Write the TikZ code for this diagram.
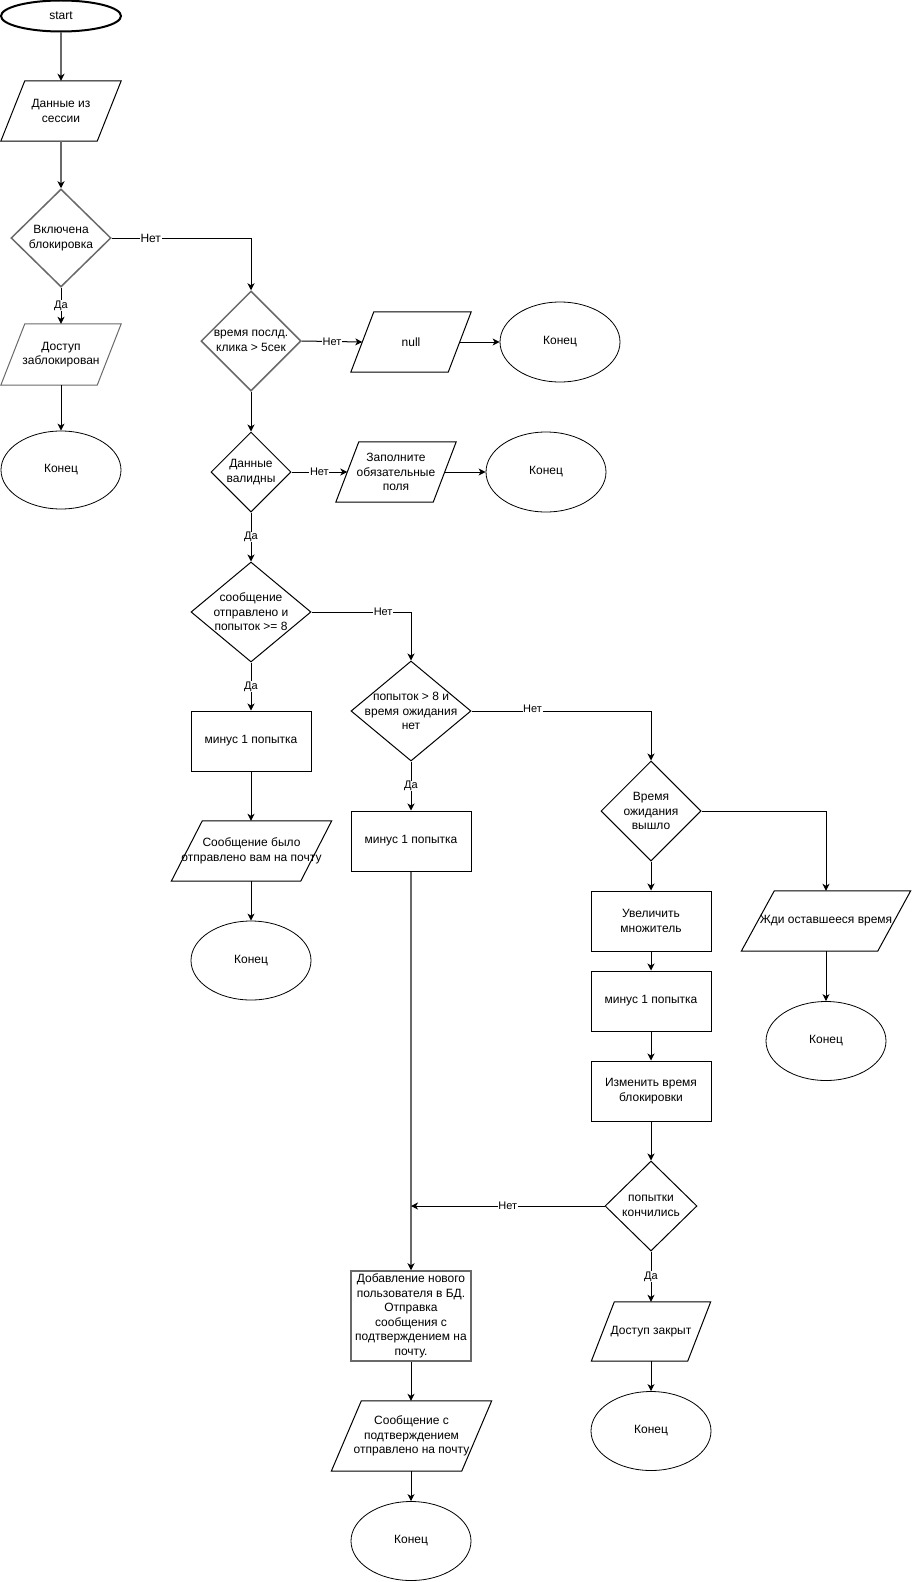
\documentclass[tikz,border=0pt]{standalone}
\usepackage{fontspec}
\setmainfont{Liberation Sans}
\usetikzlibrary{shapes.geometric,arrows.meta}
\definecolor{softgray}{RGB}{105,105,105}
\newcommand\ParaOutline[3][]{\draw[line width=1bp,#1] ([xshift=#3]#2.north west) -- (#2.north east) -- ([xshift=-#3]#2.south east) -- (#2.south west) -- cycle;}
\tikzset{
  base/.style={font=\fontsize{12bp}{14.5bp}\selectfont, align=center, inner sep=1bp},
  term/.style={base, ellipse, draw, line width=0.8bp, minimum width=120bp, minimum height=80bp},
  startst/.style={base, ellipse, draw, line width=2bp, minimum width=120bp, minimum height=31bp},
  procbox/.style={base, rectangle, draw, line width=1bp, minimum width=120bp, minimum height=60bp},
  iobox/.style={base, rectangle, inner sep=0pt},
  dia/.style={diamond, draw, line width=1bp, inner sep=0pt},
  diatext/.style={font=\fontsize{12bp}{14.5bp}\selectfont, align=center, inner sep=0pt},
  arr/.style={line width=1bp, -{Stealth[length=7bp,width=7bp,inset=2bp,color=black]}},
  softln/.style={draw=softgray, line width=1.5bp},
  lbl/.style={font=\fontsize{11bp}{13bp}\selectfont, fill=white, inner sep=0.6bp},
  lblbig/.style={font=\fontsize{12bp}{14bp}\selectfont, fill=white, inner sep=0.6bp},
}
\begin{document}
\begin{tikzpicture}[x=1bp,y=-1bp]
\fill[white] (0,0) rectangle (912,1582);
\useasboundingbox (0,0) rectangle (912,1582);

% left column
\node[startst] (start) at (61,16) {start};
\node[iobox, minimum width=120bp, minimum height=60bp] (d1) at (61,111) {Данные из\\сессии};
\node[dia, softln, minimum width=100bp, minimum height=98bp, label={[diatext]center:Включена\\блокировка}] (q1) at (61,238) {};
\node[iobox, minimum width=120bp, minimum height=61bp] (p1) at (61,354.5) {Доступ\\заблокирован};
\node[term, minimum height=78bp] (e1) at (61,470) {Конец};

% second column
\node[dia, softln, minimum width=100bp, minimum height=100bp, label={[diatext]center:время послд.\\клика > 5сек}] (q2) at (251,341) {};
\node[iobox, minimum width=120bp, minimum height=60bp] (p2) at (411,342) {null};
\node[term] (e2) at (560,342) {Конец};
\node[dia, minimum width=80bp, minimum height=80bp, label={[diatext]center:Данные\\валидны}] (q3) at (251,472) {};
\node[iobox, minimum width=120bp, minimum height=60bp] (p3) at (396,472) {Заполните\\обязательные\\поля};
\node[term] (e3) at (546,472) {Конец};
\node[dia, minimum width=120bp, minimum height=100bp, label={[diatext]center:сообщение\\отправлено и\\попыток >= 8}] (q4) at (251,612) {};
\node[procbox] (r1) at (251,741) {минус 1 попытка};
\node[iobox, minimum width=160bp, minimum height=60bp] (p4) at (251.5,851) {Сообщение было\\отправлено вам на почту};
\node[term, minimum height=79bp] (e4) at (251,960.5) {Конец};

% third column
\node[dia, minimum width=120bp, minimum height=100bp, label={[diatext]center:попыток > 8 и\\время ожидания\\нет}] (q5) at (411,711) {};
\node[procbox] (r2) at (411,841) {минус 1 попытка};
\node[procbox, draw=softgray, line width=1.5bp, minimum height=90bp] (r6) at (411,1316) {Добавление нового\\пользователя в БД.\\Отправка\\сообщения с\\подтверждением на\\почту.};
\node[iobox, minimum width=160bp, minimum height=70bp] (p7) at (411.5,1436) {Сообщение с\\подтверждением\\отправлено на почту};
\node[term, minimum height=79bp] (e7) at (411,1541) {Конец};

% fourth column
\node[dia, minimum width=100bp, minimum height=100bp, label={[diatext]center:Время\\ожидания\\вышло}] (q6) at (651,811) {};
\node[procbox] (r3) at (651,921) {Увеличить\\множитель};
\node[procbox] (r4) at (651,1001) {минус 1 попытка};
\node[procbox] (r5) at (651,1091) {Изменить время\\блокировки};
\node[dia, minimum width=92bp, minimum height=90bp, label={[diatext]center:попытки\\кончились}] (q7) at (651,1206) {};
\node[iobox, minimum width=119bp, minimum height=59bp] (p6) at (651,1331.5) {Доступ закрыт};
\node[term, minimum height=79bp] (e6) at (651,1431) {Конец};

% fifth column
\node[iobox, minimum width=169bp, minimum height=60bp] (p5) at (826,921) {Жди оставшееся время};
\node[term, minimum height=79bp] (e5) at (826,1041) {Конец};

% parallelogram outlines
\ParaOutline{d1}{24bp}
\ParaOutline[softgray]{p1}{24bp}
\ParaOutline{p2}{23bp}
\ParaOutline{p3}{23bp}
\ParaOutline{p4}{31bp}
\ParaOutline{p5}{33bp}
\ParaOutline{p6}{23bp}
\ParaOutline{p7}{30bp}

% connectors
\draw[arr, softln] (start.south) -- (d1.north);
\draw[arr, softln] (d1.south) -- (q1.north);
\draw[arr] (q1.south) -- node[lbl]{Да} (p1.north);
\draw[arr] (p1.south) -- (e1.north);
\draw[arr] (q1.east) -| node[lblbig, pos=0.14]{Нет} (q2.north);

\draw[arr] (q2.east) -- node[lbl]{Нет} ([xshift=11.5bp]p2.west);
\draw[arr] ([xshift=-11.5bp]p2.east) -- (e2.west);
\draw[arr] (q2.south) -- (q3.north);
\draw[arr] (q3.east) -- node[lbl]{Нет} ([xshift=11.5bp]p3.west);
\draw[arr] ([xshift=-11.5bp]p3.east) -- (e3.west);
\draw[arr] (q3.south) -- node[lbl]{Да} (q4.north);
\draw[arr] (q4.east) -| node[lbl, pos=0.36]{Нет} (q5.north);
\draw[arr] (q4.south) -- node[lbl]{Да} (r1.north);
\draw[arr] (r1.south) -- (r1.south |- p4.north);
\draw[arr] (p4.south -| e4.north) -- (e4.north);

\draw[arr] (q5.east) -| node[lbl, pos=0.17, yshift=2bp]{Нет} (q6.north);
\draw[arr] (q5.south) -- node[lbl]{Да} (r2.north);
\draw[arr, softln] (r2.south) -- (r6.north);
\draw[arr] (r6.south) -- (r6.south |- p7.north);
\draw[arr] (p7.south -| e7.north) -- (e7.north);

\draw[arr] (q6.east) -| (p5.north);
\draw[arr] (p5.south) -- (e5.north);
\draw[arr] (q6.south) -- (r3.north);
\draw[arr] (r3.south) -- (r4.north);
\draw[arr] (r4.south) -- (r5.north);
\draw[arr] (r5.south) -- (q7.north);
\draw[arr] (q7.west) -- node[lbl]{Нет} (q7.west -| r2.south);
\draw[arr] (q7.south) -- node[lbl]{Да} (p6.north);
\draw[arr] (p6.south) -- (e6.north);
\end{tikzpicture}
\end{document}
